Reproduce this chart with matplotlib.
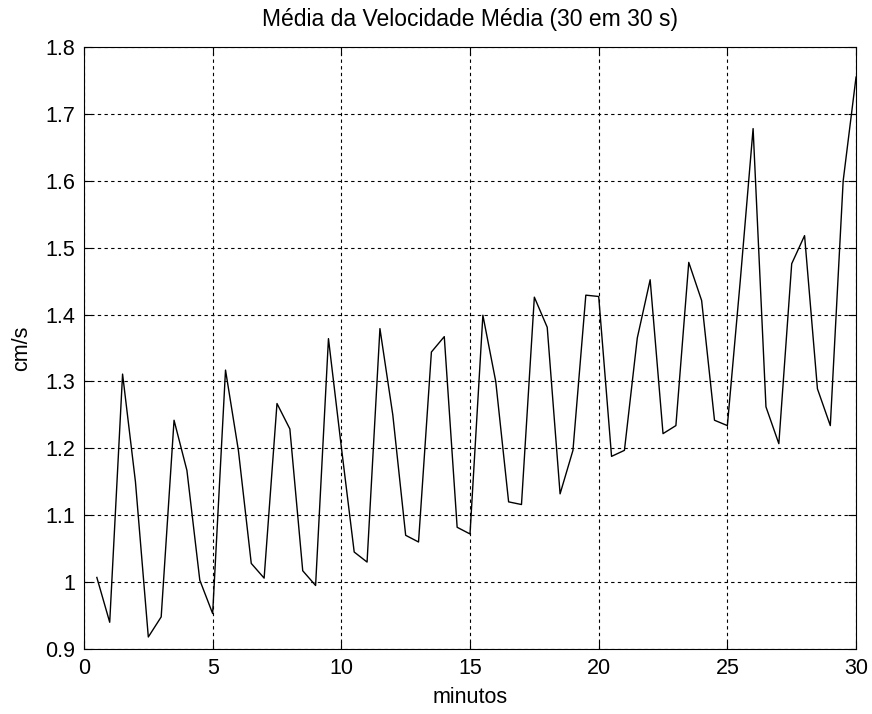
import matplotlib
matplotlib.use('Agg')
import matplotlib.pyplot as plt
from matplotlib.ticker import FuncFormatter

plt.rcParams['font.family'] = ['Liberation Sans', 'DejaVu Sans']

# tempo (minutos), um ponto a cada 30 s
minutos = [i * 0.5 for i in range(1, 61)]
velocidade = [1.007, 0.940, 1.311, 1.150, 0.918, 0.948, 1.242, 1.167, 1.003, 0.953,
              1.317, 1.197, 1.028, 1.006, 1.267, 1.229, 1.017, 0.995, 1.364, 1.202,
              1.045, 1.030, 1.379, 1.250, 1.070, 1.060, 1.344, 1.367, 1.082, 1.072,
              1.399, 1.300, 1.120, 1.116, 1.426, 1.381, 1.132, 1.197, 1.429, 1.427,
              1.188, 1.197, 1.365, 1.452, 1.222, 1.234, 1.478, 1.421, 1.242, 1.234,
              1.450, 1.678, 1.262, 1.207, 1.476, 1.518, 1.289, 1.234, 1.600, 1.755]

fig = plt.figure(figsize=(8.72, 7.14), dpi=100)
ax = fig.add_axes([0.0963, 0.091, 0.8854, 0.8432])
ax.plot(minutos, velocidade, color='k', linewidth=1.0)
ax.set_xlim(0, 30)
ax.set_ylim(0.9, 1.8)
ax.set_xticks(range(0, 31, 5))
ax.set_yticks([0.9 + 0.1 * i for i in range(10)])
ax.yaxis.set_major_formatter(FuncFormatter(lambda v, p: '%g' % round(v, 2)))
ax.grid(True, color='k', linestyle=(0, (3, 3)), linewidth=0.8)
ax.tick_params(direction='in', top=True, right=True, length=6, width=0.8,
               labelsize=15.5, pad=6.5)
for s in ax.spines.values():
    s.set_linewidth(0.8)
ax.set_title('Média da Velocidade Média (30 em 30 s)', fontsize=16.5, pad=15)
ax.set_xlabel('minutos', fontsize=15.5, labelpad=6)
ax.set_ylabel('cm/s', fontsize=15.5, labelpad=9)
fig.savefig('out.png', dpi=100)
